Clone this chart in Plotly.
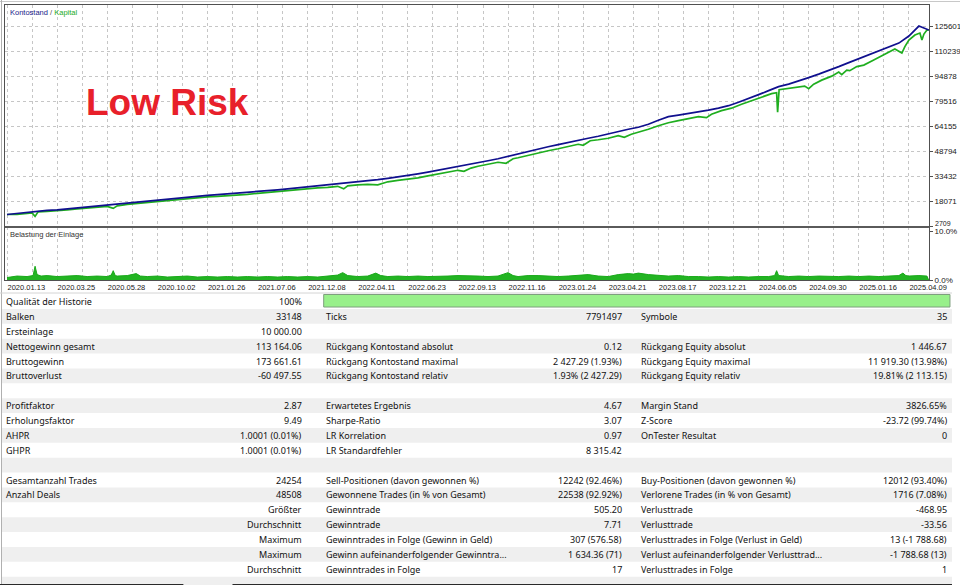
import plotly.graph_objects as go

# ---------------- DATA ----------------
date_labels = ["2020.01.13", "2020.03.25", "2020.05.28", "2020.10.02", "2021.01.26",
               "2021.07.06", "2021.12.08", "2022.04.11", "2022.06.23", "2022.09.13",
               "2022.11.16", "2023.01.24", "2023.04.21", "2023.08.17", "2023.12.21",
               "2024.06.05", "2024.09.30", "2025.01.16", "2025.04.09"]

balance_ticks = [2709, 18071, 33432, 48794, 64155, 79516, 94878, 110239, 125601]

# Balance (Kontostand), one value per sample step 0..92
balance = [10000, 10697, 11311, 11926, 12540, 12848, 13462, 14077, 14691, 15305,
           15920, 16534, 17149, 17763, 18378, 18992, 19607, 20221, 20836, 21266,
           21757, 22187, 22618, 22986, 23478, 24031, 24584, 25137, 25751, 26366,
           26857, 27410, 28025, 28639, 29315, 29991, 30667, 31404, 32203, 33002,
           33862, 34968, 36013, 37119, 38163, 39208, 40498, 41727, 42956, 44185,
           45721, 47257, 48794, 50207, 51559, 52910, 54324, 55553, 56781, 58010,
           59547, 61083, 62312, 63541, 65384, 67842, 69992, 70914, 71836, 72757,
           73986, 75215, 76751, 78902, 81053, 83510, 85968, 88426, 89962, 91806,
           93956, 96107, 98258, 100715, 103173, 105631, 108089, 110240, 112697, 115155,
           119456, 125601, 123164]

# Equity (Kapital)
equity_idx = [0, 1, 2, 2.5, 2.8, 3.1, 4, 5, 6, 7, 8, 9, 10, 10.6, 11, 12, 13, 14, 15, 16,
              17, 18, 19, 20, 21, 22, 23, 24, 25, 26, 27, 28, 29, 30, 31, 32, 33, 33.6, 34, 35,
              36, 37, 38, 39, 40, 41, 42, 43, 44, 45, 45.6, 46.3, 47, 48, 49, 49.8, 50.5, 51, 52, 53,
              54, 55, 56, 57, 57.5, 58.2, 59, 60, 61, 61.6, 62.3, 63, 64, 65, 66, 67, 68, 69, 69.8, 70.3,
              71.3, 72.3, 73.3, 74.3, 75.3, 76.3, 76.8, 76.9, 77.05, 77.8, 78.8, 79.6, 80, 80.5, 81.3,
              82.3, 83, 83.3, 83.8, 84.1, 84.8, 85.5, 86.3, 87.3, 88, 88.6, 89.3, 89.6, 90, 90.6,
              91.1, 91.3, 91.5, 91.8, 92]
equity = [10000, 10083, 10697, 11004, 8854, 11619, 11926, 12233, 12848, 13462, 14077, 14691, 14998, 13769, 15305, 16227, 16842, 17456, 18071, 18685,
          19299, 19914, 20221, 20836, 21143, 21450, 21757, 22372, 22986, 23601, 24215, 24830, 25137, 25751, 26366, 26673, 27287, 25751, 27595, 28209,
          28516, 28209, 30053, 30974, 31589, 32510, 33739, 34968, 36197, 37119, 36504, 38471, 39577, 40806, 42034, 41420, 44185, 44800, 46336, 47872,
          49101, 50330, 51559, 53095, 52480, 55245, 55860, 56782, 58319, 57396, 59239, 60468, 62312, 64462, 66306, 67535, 68763, 69992, 69378, 71529,
          73679, 75215, 77673, 79824, 82282, 84125, 84739, 72757, 86583, 87197, 88119, 88733, 87197, 89962, 92420,
          94878, 97336, 95800, 98565, 98258, 100715, 101637, 104095, 107167, 109625, 111468, 109011, 113005, 116999, 120071,
          121300, 116999, 120685, 123143, 123164]

# Deposit load (Belastung der Einlage), percent
load_idx = [0, 1, 2, 2.6, 2.8, 3.0, 3.4, 4, 5, 6, 7, 8, 9, 10, 10.4, 10.6, 10.8, 11, 12, 12.9,
            13.3, 14, 15, 16, 17, 18, 19, 20, 21, 22, 23, 24, 25, 26, 27, 28, 29, 30, 31, 32,
            33, 33.5, 34, 35, 36, 36.8, 37.3, 38, 39, 40, 41, 42, 43, 44, 45, 46, 47, 48, 49, 50,
            50.5, 51, 52, 53, 54, 55, 56, 57, 58, 59, 60, 61, 62, 62.5, 63, 64, 65, 66, 67, 68,
            69, 70, 71, 72, 73, 74, 75, 76, 76.6, 76.8, 77.0, 78, 79, 80, 81, 82, 83, 84, 85, 86,
            87, 88, 89, 89.4, 89.7, 90, 91, 91.8, 92]
load_pct = [0.6, 0.9, 0.8, 1.0, 2.9, 1.2, 0.9, 1.0, 0.8, 0.9, 1.0, 0.8, 0.9, 0.8, 1.1, 2.0, 1.0, 0.9, 1.0, 1.4,
            0.9, 0.8, 0.9, 0.7, 0.8, 0.9, 0.7, 0.8, 0.7, 0.8, 0.7, 0.8, 0.7, 0.8, 0.7, 0.8, 0.7, 0.8, 0.7, 0.9,
            1.1, 1.6, 1.0, 0.8, 0.9, 1.5, 1.0, 0.8, 0.9, 0.8, 0.9, 0.8, 0.8, 0.9, 1.0, 1.0, 0.9, 0.8, 0.9, 1.6,
            1.0, 0.8, 1.0, 1.0, 0.9, 0.8, 0.9, 1.1, 1.2, 0.9, 0.8, 1.2, 1.4, 1.3, 1.5, 1.2, 1.0, 0.9, 1.0, 0.8,
            0.8, 0.7, 0.8, 0.7, 0.8, 0.7, 0.8, 0.8, 1.0, 2.0, 1.0, 0.8, 0.9, 0.8, 0.9, 0.8, 0.8, 0.9, 0.8, 0.9,
            0.8, 0.9, 1.0, 1.5, 1.0, 0.9, 1.0, 0.9, 0.0]
load_ticks = [0, 10]
load_ticktext = ["0.0%", "10.0%"]

# Report table
col1_labels = ["Qualität der Historie", "Balken", "Ersteinlage", "Nettogewinn gesamt", "Bruttogewinn",
               "Bruttoverlust", "", "Profitfaktor", "Erholungsfaktor", "AHPR", "GHPR", "",
               "Gesamtanzahl Trades", "Anzahl Deals", "", "", "", "", "", ""]
col1_values = ["100%", "33148", "10 000.00", "113 164.06", "173 661.61", "-60 497.55", "", "2.87",
               "9.49", "1.0001 (0.01%)", "1.0001 (0.01%)", "", "24254", "48508", "Größter",
               "Durchschnitt", "Maximum", "Maximum", "Durchschnitt", ""]
col2_labels = ["", "Ticks", "", "Rückgang Kontostand absolut", "Rückgang Kontostand maximal",
               "Rückgang Kontostand relativ", "", "Erwartetes Ergebnis", "Sharpe-Ratio", "LR Korrelation",
               "LR Standardfehler", "", "Sell-Positionen (davon gewonnen %)",
               "Gewonnene Trades (in % von Gesamt)", "Gewinntrade", "Gewinntrade",
               "Gewinntrades in Folge (Gewinn in Geld)", "Gewinn aufeinanderfolgender Gewinntra...",
               "Gewinntrades in Folge", ""]
col2_values = ["", "7791497", "", "0.12", "2 427.29 (1.93%)", "1.93% (2 427.29)", "", "4.67", "3.07",
               "0.97", "8 315.42", "", "12242 (92.46%)", "22538 (92.92%)", "505.20", "7.71",
               "307 (576.58)", "1 634.36 (71)", "17", ""]
col3_labels = ["", "Symbole", "", "Rückgang Equity absolut", "Rückgang Equity maximal",
               "Rückgang Equity relativ", "", "Margin Stand", "Z-Score", "OnTester Resultat", "", "",
               "Buy-Positionen (davon gewonnen %)", "Verlorene Trades (in % von Gesamt)", "Verlusttrade",
               "Verlusttrade", "Verlusttrades in Folge (Verlust in Geld)",
               "Verlust aufeinanderfolgender Verlusttrad...", "Verlusttrades in Folge", ""]
col3_values = ["", "35", "", "1 446.67", "11 919.30 (13.98%)", "19.81% (2 113.15)", "", "3826.65%",
               "-23.72 (99.74%)", "0", "", "", "12012 (93.40%)", "1716 (7.08%)", "-468.95", "-33.56",
               "13 (-1 788.68)", "-1 788.68 (13)", "1", ""]

# ---------------- LAYOUT HELPERS ----------------
# positions below are given in reference-picture pixels (960 x 585) and mapped to paper fractions
W, H = 960, 585
FIG_W, FIG_H = 980, 591   # page size that the photographing step maps onto 960 x 585


def px(x):
    return x / W


def py(y):
    return 1 - y / H


PX_PER_IDX = 10.0
X_LEFT, X_RIGHT = 5, 927
TOP_T, TOP_B = 5, 226
BOT_T, BOT_B = 227, 280
val_per_px = (balance_ticks[-1] - balance_ticks[0]) / 200.0

x_range = [-(7 - X_LEFT) / PX_PER_IDX, (X_RIGHT - 7) / PX_PER_IDX]
y_range = [balance_ticks[0], balance_ticks[0] + (TOP_B - TOP_T) * val_per_px]
y2_range = [0, 10 * (BOT_B - BOT_T) / (BOT_B - 231)]

grid_vals = [k * 2.5 for k in range(2 * len(date_labels) - 1)]
grid_text = [date_labels[k // 2] if k % 2 == 0 else "" for k in range(len(grid_vals))]

GRID = "#c6c6c6"
AXC = "#505050"
AX_FONT = dict(family="Liberation Sans, Arial", size=8, color="#202020")

fig = go.Figure()
fig.add_trace(go.Scatter(x=equity_idx, y=equity, mode="lines",
                         line=dict(color="#1fae1f", width=1.7), xaxis="x", yaxis="y",
                         hoverinfo="skip"))
fig.add_trace(go.Scatter(x=list(range(len(balance))), y=balance, mode="lines",
                         line=dict(color="#10108e", width=1.7), xaxis="x", yaxis="y",
                         hoverinfo="skip"))
fig.add_trace(go.Scatter(x=load_idx, y=load_pct, mode="lines", fill="tozeroy",
                         line=dict(color="#1aa81a", width=1), fillcolor="#22b422",
                         xaxis="x2", yaxis="y2", hoverinfo="skip"))

ytick_text = [str(v) if k > 0 else "" for k, v in enumerate(balance_ticks)]

fig.update_layout(
    width=FIG_W, height=FIG_H, margin=dict(l=0, r=0, t=0, b=0), autosize=False,
    paper_bgcolor="white", plot_bgcolor="white", showlegend=False,
    xaxis=dict(domain=[px(X_LEFT), px(X_RIGHT)], anchor="y", range=x_range,
               tickmode="array", tickvals=grid_vals, showticklabels=False, ticks="",
               showgrid=True, gridcolor=GRID, griddash="3px,3px", gridwidth=1,
               showline=True, mirror=True, linecolor=AXC, linewidth=1, zeroline=False),
    yaxis=dict(domain=[py(TOP_B), py(TOP_T)], anchor="x", range=y_range, side="right",
               tickmode="array", tickvals=balance_ticks, ticktext=ytick_text,
               ticks="outside", ticklen=3, tickcolor=AXC, tickfont=AX_FONT,
               showgrid=True, gridcolor=GRID, griddash="3px,3px", gridwidth=1,
               showline=True, mirror=True, linecolor=AXC, linewidth=1, zeroline=False),
    xaxis2=dict(domain=[px(X_LEFT), px(X_RIGHT)], anchor="y2", range=x_range,
                tickmode="array", tickvals=grid_vals, ticktext=grid_text, ticks="",
                ticklabelposition="outside right",
                tickfont=dict(family="Liberation Sans, Arial", size=7.5, color="#202020"),
                showgrid=True, gridcolor=GRID, griddash="3px,3px", gridwidth=1,
                showline=True, mirror=True, linecolor=AXC, linewidth=1, zeroline=False),
    yaxis2=dict(domain=[py(BOT_B), py(BOT_T)], anchor="x2", range=y2_range, side="right",
                tickmode="array", tickvals=load_ticks, ticktext=load_ticktext,
                ticks="outside", ticklen=3, tickcolor=AXC, tickfont=AX_FONT,
                showgrid=False, showline=True, mirror=True, linecolor=AXC, linewidth=1,
                zeroline=False),
)

shapes = []
# outer light frame
shapes.append(dict(type="line", xref="paper", yref="paper", x0=0, x1=1, y0=py(1.5), y1=py(1.5),
                   line=dict(color="#c8c8c8", width=1)))
shapes.append(dict(type="line", xref="paper", yref="paper", x0=px(1.5), x1=px(1.5), y0=py(0), y1=py(H),
                   line=dict(color="#b0b0b0", width=1)))
# separator between charts
shapes.append(dict(type="line", xref="paper", yref="paper", x0=px(X_LEFT), x1=px(X_RIGHT),
                   y0=py(226.5), y1=py(226.5), line=dict(color="#5a5a5a", width=2)))
# table rows
ROW0, PITCH = 301.0, 14.85
n_rows = len(col1_labels)
for i in range(n_rows):
    if i % 2 == 1:
        yc = ROW0 + i * PITCH
        shapes.append(dict(type="rect", xref="paper", yref="paper", x0=px(2), x1=px(950),
                           y0=py(min(yc + PITCH / 2, H)), y1=py(yc - PITCH / 2),
                           fillcolor="#efefef", line=dict(width=0), layer="below"))
shapes.append(dict(type="line", xref="paper", yref="paper", x0=px(0), x1=px(950),
                   y0=py(292.5), y1=py(292.5), line=dict(color="#d4d4d4", width=1)))
# history quality bar
shapes.append(dict(type="rect", xref="paper", yref="paper", x0=px(323), x1=px(948),
                   y0=py(306.5), y1=py(294), fillcolor="#98f08a", line=dict(color="#7f9f7f", width=1)))
# bottom window edge
shapes.append(dict(type="rect", xref="paper", yref="paper", x0=px(0), x1=px(183),
                   y0=py(585), y1=py(583), fillcolor="#2a2a2a", line=dict(width=0)))
shapes.append(dict(type="rect", xref="paper", yref="paper", x0=px(232), x1=px(950),
                   y0=py(585), y1=py(583), fillcolor="#2a2a2a", line=dict(width=0)))

annotations = []
TFONT = dict(family="Noto Sans, Open Sans, sans-serif", size=9, color="#111111")


def add_text(x, y, text, anchor):
    if text:
        annotations.append(dict(xref="paper", yref="paper", x=px(x), y=py(y), text=text,
                                showarrow=False, xanchor=anchor, yanchor="middle", font=TFONT))


for i in range(n_rows):
    yc = ROW0 + i * PITCH
    add_text(4, yc, col1_labels[i], "left")
    add_text(303, yc, col1_values[i], "right")
    add_text(323, yc, col2_labels[i], "left")
    add_text(623, yc, col2_values[i], "right")
    add_text(638, yc, col3_labels[i], "left")
    add_text(947, yc, col3_values[i], "right")

# lowest balance tick label, drawn just above the load panel
annotations.append(dict(xref="paper", yref="paper", x=px(931), y=py(223.5), text=str(balance_ticks[0]),
                        showarrow=False, xanchor="left", yanchor="middle",
                        font=dict(family="Liberation Sans, Arial", size=7, color="#202020")))
annotations.append(dict(xref="paper", yref="paper", x=px(8), y=py(12),
                        text="<span style='color:#20208a'>Kontostand</span>"
                             "<span style='color:#555555'> / </span>"
                             "<span style='color:#22aa22'>Kapital</span>",
                        showarrow=False, xanchor="left", yanchor="middle",
                        font=dict(family="Liberation Sans, Arial", size=7.5)))
annotations.append(dict(xref="paper", yref="paper", x=px(8), y=py(234), text="Belastung der Einlage",
                        showarrow=False, xanchor="left", yanchor="middle",
                        font=dict(family="Liberation Sans, Arial", size=7.5, color="#333333")))
annotations.append(dict(xref="paper", yref="paper", x=px(167), y=py(102), text="<b>Low Risk</b>",
                        showarrow=False, xanchor="center", yanchor="middle",
                        font=dict(family="Liberation Sans, Arial", size=37, color="#e8202a")))

fig.update_layout(shapes=shapes, annotations=annotations)

page_css = ("var s=document.createElement('style');"
            "s.textContent='html,body{margin:0;padding:0;overflow:hidden}';"
            "document.head.appendChild(s);")
fig.write_html("out.html", config={"displayModeBar": False, "responsive": False},
               post_script=page_css)
